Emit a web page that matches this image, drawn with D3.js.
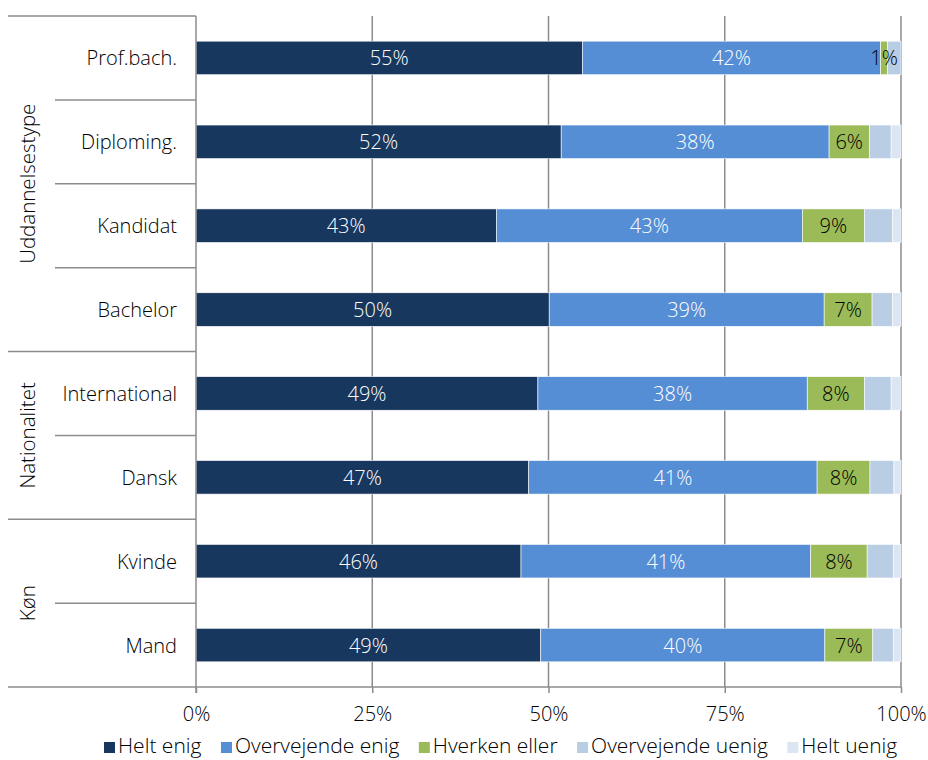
<!DOCTYPE html>
<html><head><meta charset="utf-8">
<script src="https://cdn.jsdelivr.net/npm/d3@7"></script>
<style>body{margin:0;background:#fff}svg{display:block}text{font-family:"Open Sans",sans-serif;font-weight:300}</style>
</head><body><svg id="c" width="928" height="760"></svg>
<script>
const categories = ["Prof.bach.","Diploming.","Kandidat","Bachelor","International","Dansk","Kvinde","Mand"];
const groups = [
  {name:"Uddannelsestype", members:["Prof.bach.","Diploming.","Kandidat","Bachelor"]},
  {name:"Nationalitet", members:["International","Dansk"]},
  {name:"Køn", members:["Kvinde","Mand"]}
];
const seriesNames = ["Helt enig","Overvejende enig","Hverken eller","Overvejende uenig","Helt uenig"];
const heltEnig        = [54.8, 51.8, 42.6, 50.1, 48.5, 47.2, 46.1, 48.9];
const overvejendeEnig = [42.3, 38.0, 43.4, 39.0, 38.2, 40.9, 41.1, 40.3];
const hverkenEller    = [1.0, 5.7, 8.8, 6.8, 8.1, 7.5, 8.0, 6.8];
const overvejendeUenig= [1.9, 3.1, 4.0, 2.9, 3.8, 3.4, 3.7, 2.9];
const heltUenig       = [0.0, 1.4, 1.2, 1.2, 1.4, 1.0, 1.1, 1.1];
const tickValues = [0, 25, 50, 75, 100];
const colors = ["#17375E","#558ED5","#9BBB59","#B9CDE5","#DCE6F2"];
const labelColors = ["#ffffff","#ffffff","#000000",null,null];

(function(){
const seriesVals = [heltEnig, overvejendeEnig, hverkenEller, overvejendeUenig, heltUenig];
const rows = categories.map((c,i)=>{const o={cat:c}; seriesNames.forEach((s,j)=>o[s]=seriesVals[j][i]); return o;});
const stack = d3.stack().keys(seriesNames)(rows);

const svg = d3.select("#c");
const pLeft=196, pRight=901, pTop=16, pBottom=687;
const x = d3.scaleLinear().domain([0,100]).range([pLeft,pRight]);
const y = d3.scaleBand().domain(categories).range([pTop,pBottom]).paddingInner(0.6).paddingOuter(0.3);
const step = y.step();
const grey="#8c8c8c";
const fs = 20;

svg.append("g").selectAll("line").data(tickValues.slice(1)).join("line")
  .attr("x1",d=>x(d)).attr("x2",d=>x(d)).attr("y1",pTop).attr("y2",pBottom)
  .attr("stroke",grey).attr("stroke-width",1.5);

const layer = svg.append("g").selectAll("g").data(stack).join("g").attr("fill",(d,i)=>colors[i]);
layer.selectAll("rect").data(d=>d).join("rect")
  .attr("x",d=>x(d[0])).attr("width",d=>Math.max(0,x(d[1])-x(d[0])))
  .attr("y",d=>y(d.data.cat)).attr("height",y.bandwidth())
  .attr("stroke","#ffffff").attr("stroke-width",0.6);

stack.forEach((s,i)=>{
  if(!labelColors[i]) return;
  svg.append("g").selectAll("text").data(s).join("text")
    .attr("x",d=>(x(d[0])+x(d[1]))/2).attr("y",d=>y(d.data.cat)+y.bandwidth()/2)
    .attr("text-anchor","middle").attr("dominant-baseline","central")
    .attr("font-size",fs).attr("fill",labelColors[i])
    .text(d=>Math.round(d[1]-d[0])+"%");
});

svg.append("line").attr("x1",pLeft).attr("x2",pLeft).attr("y1",pTop).attr("y2",pBottom+6)
  .attr("stroke",grey).attr("stroke-width",1.5);
const xAxis = d3.axisBottom(x).tickValues(tickValues).tickFormat(d=>d+"%").tickSize(6).tickSizeOuter(0);
const ax = svg.append("g").attr("transform",`translate(0,${pBottom})`).call(xAxis);
ax.select(".domain").remove();
ax.selectAll(".tick line").attr("stroke",grey).attr("stroke-width",1.5);
ax.selectAll(".tick text").attr("font-size",fs).attr("fill","#000").attr("dy",0).attr("y",34)
  .attr("font-family",'"Open Sans",sans-serif').attr("font-weight",300);
svg.append("line").attr("x1",8).attr("x2",pRight).attr("y1",pBottom).attr("y2",pBottom).attr("stroke",grey).attr("stroke-width",1.5);

svg.append("g").selectAll("text").data(categories).join("text")
  .attr("x",pLeft-19).attr("y",d=>y(d)+y.bandwidth()/2)
  .attr("text-anchor","end").attr("dominant-baseline","central").attr("font-size",fs).attr("fill","#000")
  .text(d=>d);

let idx=0;
groups.forEach((g)=>{
  const gTop = pTop + idx*step;
  const gBot = gTop + g.members.length*step;
  svg.append("line").attr("x1",8).attr("x2",pLeft).attr("y1",gTop).attr("y2",gTop).attr("stroke",grey).attr("stroke-width",1.5);
  for(let k=1;k<g.members.length;k++){
    svg.append("line").attr("x1",55).attr("x2",pLeft).attr("y1",gTop+k*step).attr("y2",gTop+k*step).attr("stroke",grey).attr("stroke-width",1.5);
  }
  svg.append("text").attr("transform",`translate(27,${(gTop+gBot)/2}) rotate(-90)`)
    .attr("text-anchor","middle").attr("dominant-baseline","central").attr("font-size",fs+0.5).attr("fill","#000").text(g.name);
  idx += g.members.length;
});

const leg = svg.append("g");
let lx = 104;
seriesNames.forEach((s,i)=>{
  leg.append("rect").attr("x",lx).attr("y",742).attr("width",11).attr("height",11).attr("fill",colors[i]);
  const t = leg.append("text").attr("x",lx+14).attr("y",753).attr("font-size",21).attr("fill","#000").text(s);
  lx += 14 + t.node().getComputedTextLength() + 19.5;
});
})();
</script></body></html>
